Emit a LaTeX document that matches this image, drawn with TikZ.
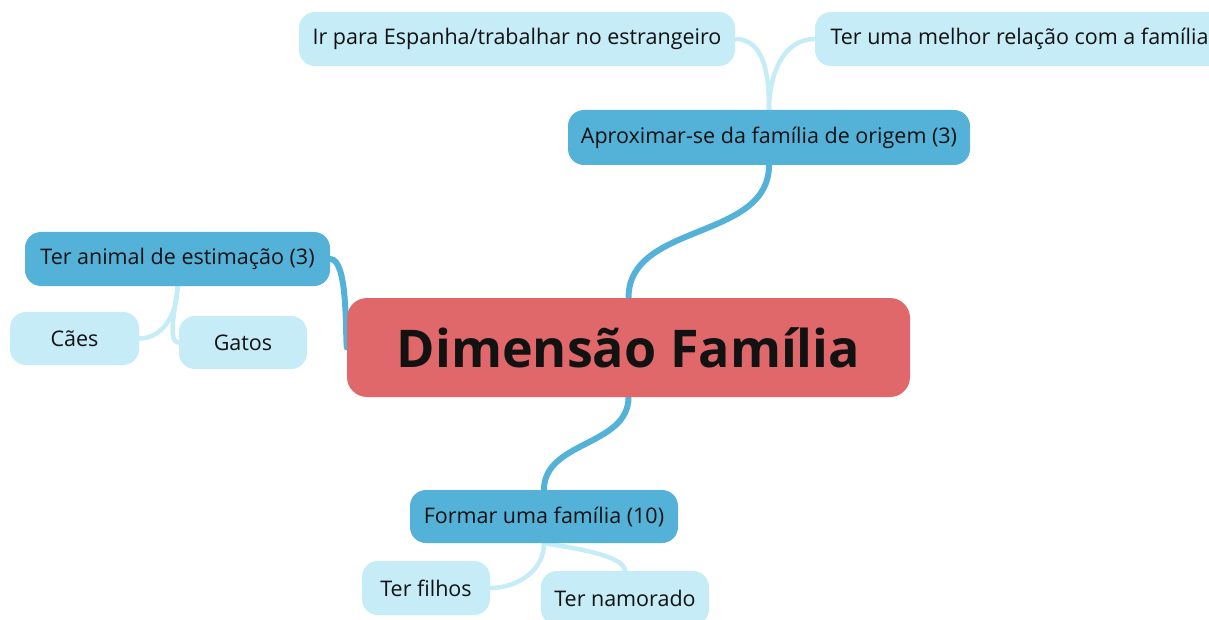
\documentclass[tikz,border=0pt]{standalone}
\usepackage{fontspec}
\setmainfont{Open Sans}
\usetikzlibrary{positioning,backgrounds}
\definecolor{rootred}{RGB}{224,104,106}
\definecolor{topicblue}{RGB}{84,178,217}
\definecolor{leafblue}{RGB}{197,236,247}
\definecolor{inkdark}{RGB}{18,18,18}
\tikzset{
    boxsize/.style 2 args={minimum width=#1pt, minimum height=#2pt},
    root/.style={fill=rootred, rounded corners=20pt, font=\bfseries\fontsize{52}{60}\selectfont},
    topic/.style={fill=topicblue, rounded corners=16pt, font=\fontsize{21.5}{26}\selectfont},
    leaf/.style={fill=leafblue, rounded corners=16pt, font=\fontsize{21.5}{26}\selectfont},
    main link/.style={draw=topicblue, line width=6pt, line cap=round},
    leaf link/.style={draw=leafblue, line width=4.5pt, line cap=round},
}
\tikzstyle{mind map}=[
    x=1pt,y=1pt,
    every node/.style={text=inkdark, inner sep=0pt},
]

\begin{document}
\begin{tikzpicture}[mind map]
        \clip (0,0) rectangle (1209,-620);
        \node[root, boxsize={563}{99}] (root) at (628.5,-347.5) {Dimensão Família};
        \node[topic, boxsize={402}{55}] (aprox) at (769,-137.5) {Aproximar-se da família de origem (3)};
        \node[leaf, boxsize={436}{54}] (ir) at (517,-39) {Ir para Espanha/trabalhar no estrangeiro};
        \node[leaf, boxsize={409}{54}] (relacao) at (1019.5,-39) {Ter uma melhor relação com a família};
        \node[topic, boxsize={305}{54}] (animal) at (177.5,-259) {Ter animal de estimação (3)};
        \node[leaf, boxsize={129}{53}] (caes) at (74.5,-338.5) {Cães};
        \node[leaf, boxsize={128}{53}] (gatos) at (243,-342.5) {Gatos};
        \node[topic, boxsize={268}{53}] (formar) at (544,-516.5) {Formar uma família (10)};
        \node[leaf, boxsize={128}{54}] (filhos) at (426,-588) {Ter filhos};
        \node[leaf, boxsize={168}{54}] (namorado) at (625,-598) {Ter namorado};

        \begin{pgfonlayer}{background}
        \path
            (root.north) edge[main link, out=90, in=-90] (aprox.south)
            (root.south) edge[main link, out=-90, in=90] (formar.north)
            (root.west) edge[main link, out=95, in=0, looseness=0.5] (animal.east)
            (aprox.north) edge[leaf link, out=90, in=0] (ir.east)
            (aprox.north) edge[leaf link, out=90, in=180] (relacao.west)
            (animal.south) edge[leaf link, out=-90, in=0] (caes.east)
            (animal.south) edge[leaf link, out=-90, in=180, looseness=0.6] (gatos.west)
            (formar.south) edge[leaf link, out=-90, in=0] (filhos.east)
            (formar.south) edge[leaf link, out=-10, in=90, looseness=0.5] (namorado.north)
        ;
        \end{pgfonlayer}
    \end{tikzpicture}
\end{document}
